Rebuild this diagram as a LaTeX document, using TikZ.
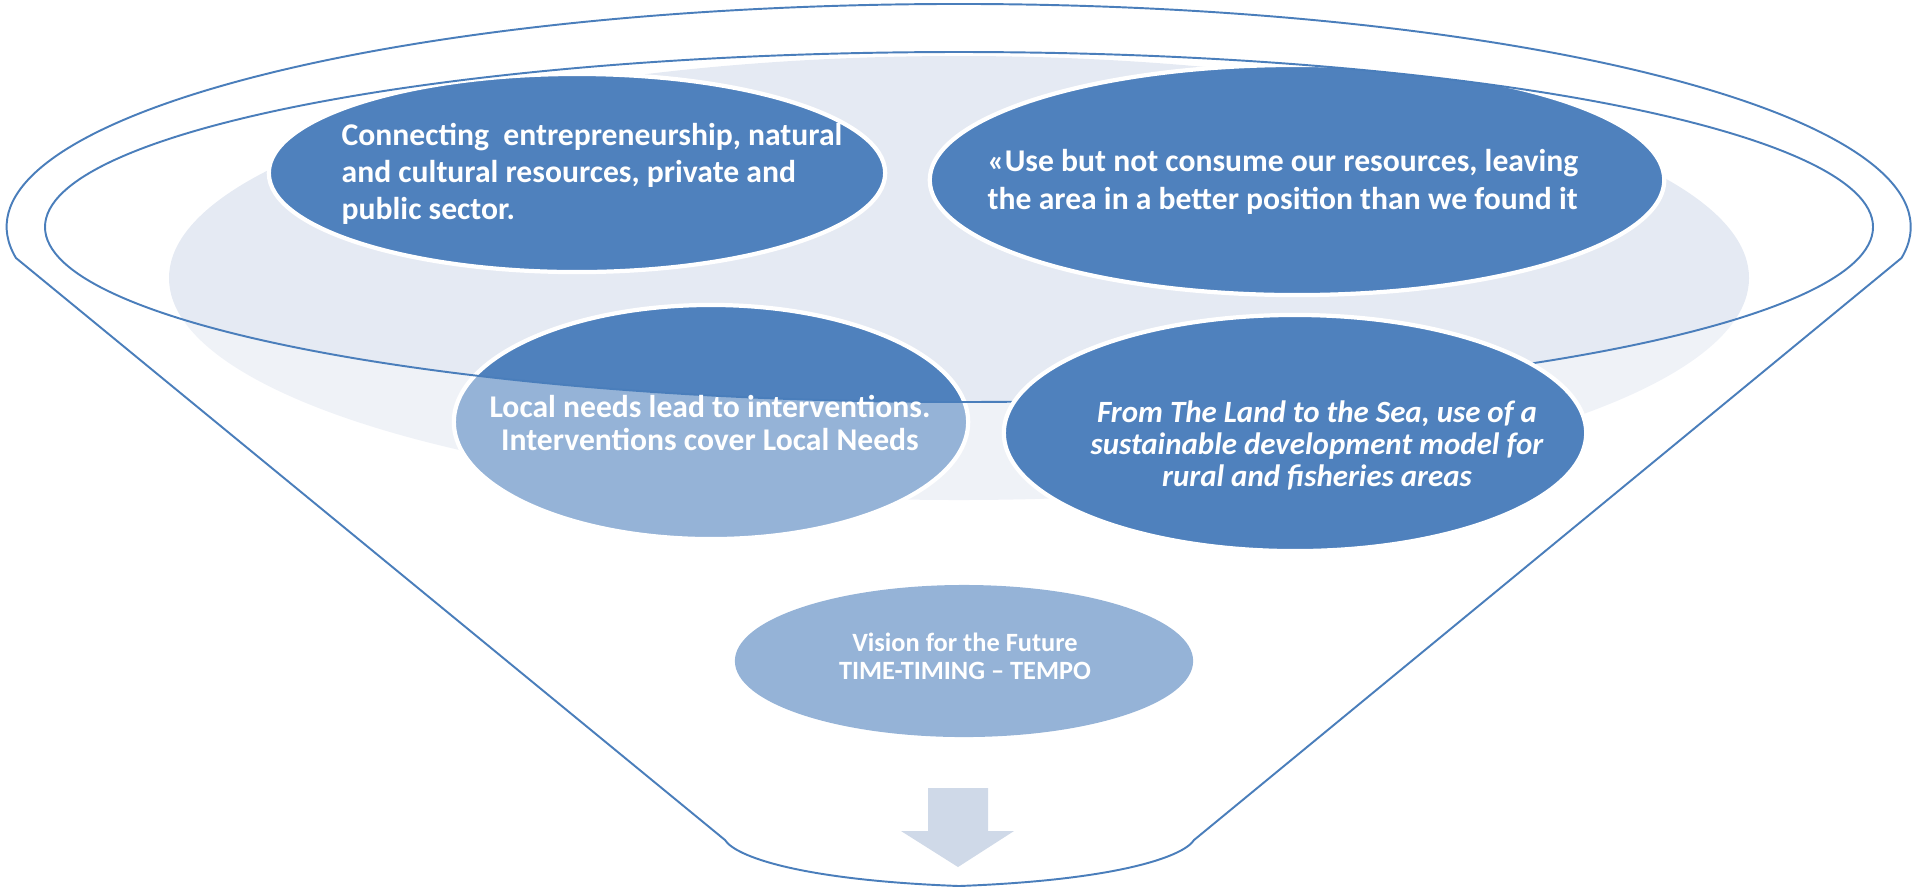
\documentclass[tikz,border=0pt]{standalone}
\usepackage{fontspec}
\setmainfont{Carlito}
\usepackage{xcolor}
\usepackage{tikz}
\usetikzlibrary{shapes,positioning,calc}

\definecolor{deepblue}{HTML}{4F81BD}
\definecolor{mistblue}{HTML}{E5EAF3}
\definecolor{arrowblue}{HTML}{CFD9E8}
\definecolor{rimblue}{HTML}{4A7EBB}

\begin{document}
\begin{tikzpicture}[x=0.01cm, y=-0.01cm,
    bubble/.style={ellipse, draw=white, line width=1.2pt, fill=deepblue, inner sep=0pt},
    bigtext/.style={text=white, inner sep=0pt, font=\bfseries\fontsize{9}{10.6}\selectfont},
    rimline/.style={draw=rimblue, line width=0.55pt}]
    \useasboundingbox (0,0) rectangle (1913,890);

    % pale disc behind the bubbles
    \fill [mistblue] (959,278) ellipse [x radius=790, y radius=222];

    \node [bubble, minimum width=6.16cm, minimum height=1.98cm] (conn) at (577,173) {};
    \node [bubble, minimum width=7.34cm, minimum height=2.30cm] (useres) at (1297,180) {};
    \node [bubble, minimum width=5.14cm, minimum height=2.34cm] (local) at (711,422) {};
    \node [bubble, draw=none, minimum width=4.58cm, minimum height=1.52cm] (vision) at (964,661) {};

    % funnel body, seen through
    \fill [white, fill opacity=0.4, even odd rule] (16,258) arc [start angle=172, end angle=368, x radius=952, y radius=223]
        -- (1194,840) .. controls (1184,856) and (1120,880) .. (959,886) .. controls (798,880) and (735,856) .. (725,840) -- cycle
        (959,227) ellipse [x radius=914, y radius=175];
    \fill [white] (7,227) arc [start angle=180, end angle=360, x radius=952, y radius=223]
        -- (1873,227) arc [start angle=0, end angle=-180, x radius=914, y radius=175] -- cycle;

    % funnel outline
    \draw [rimline] (16,258) arc [start angle=172, end angle=368, x radius=952, y radius=223]
        -- (1194,840) .. controls (1184,856) and (1120,880) .. (959,886) .. controls (798,880) and (735,856) .. (725,840) -- cycle;
    \draw [rimline] (959,227) ellipse [x radius=914, y radius=175];

    % arrow out of the funnel
    \fill [arrowblue] (928,788) -- (988,788) -- (988,831) -- (1014,831) -- (958,867) -- (901,831) -- (928,831) -- cycle;

    \node [bubble, minimum width=5.82cm, minimum height=2.36cm] (land) at (1295,433) {};

    % texts
    \node [bigtext, anchor=west, align=left] (conntext) at (341,174) {Connecting\ \ entrepreneurship, natural\\and cultural resources, private and\\public sector.};
    \node [bigtext, anchor=west, align=left] (usetext) at (987,182) {«Use but not consume our resources, leaving\\the area in a better position than we found it};
    \node [text=white, inner sep=0pt, align=center, font=\bfseries\fontsize{9}{9.4}\selectfont] (localtext) at (710,423) {Local needs lead to interventions.\\Interventions cover Local Needs};
    \node [text=white, inner sep=0pt, align=center, font=\bfseries\itshape\fontsize{8.8}{9.1}\selectfont] (landtext) at (1317,445) {From The Land to the Sea, use of a\\sustainable development model for\\rural and fisheries areas};
    \node [text=white, inner sep=0pt, align=center, font=\bfseries\fontsize{7.5}{8}\selectfont] (visiontext) at (965,656) {Vision for the Future\\TIME-TIMING -- TEMPO};

\end{tikzpicture}
\end{document}
